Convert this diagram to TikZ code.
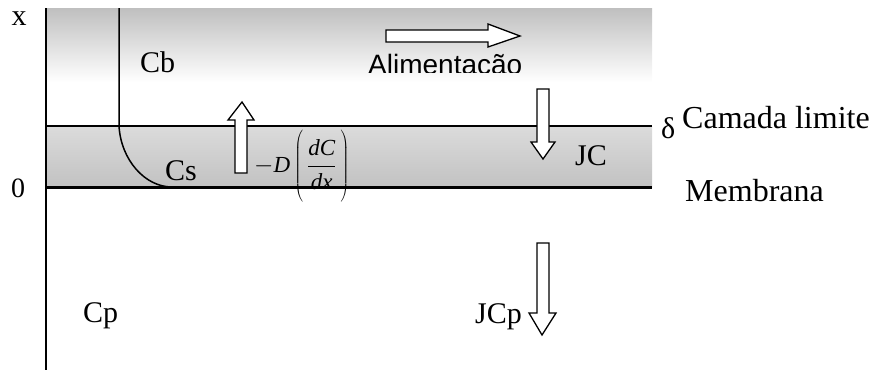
\documentclass[tikz,border=0pt]{standalone}
\usepackage{fontspec}
\setmainfont{Liberation Serif}
\newfontfamily\alimfont{Liberation Sans}
\usepackage{tikz}
\usetikzlibrary{positioning,calc}
\tikzset{
  lbl/.style={font=\fontsize{30}{36}\selectfont, inner sep=0pt, anchor=base west},
  big/.style={lbl, font=\fontsize{32}{38}\selectfont},
  flux/.style={draw, fill=white, line width=1.3pt, line join=miter},
  wall/.style={line width=2pt}
}
\begin{document}
\begin{tikzpicture}[x=1pt, y=-1pt]
\useasboundingbox (0,0) rectangle (874,370);
% bulk feed and boundary layer
\shade[top color=gray!50, bottom color=white] (46,8) rectangle (652,82);
\shade[top color=gray!28, bottom color=gray!48] (46,126) rectangle (652,187);
\draw[line width=1.5pt] (46,126) -- (652,126);
\draw[line width=3pt] (46,187) -- (652,187);
\draw[wall] (46,8) -- (46,370);
% concentration profile
\draw[line width=1.5pt] (119,8) -- (119,126) .. controls (121,160) and (145,187) .. (172,187);
% labels
\node[lbl, anchor=base] (ex) at (19,25) {x};
\node[lbl, anchor=base, font=\fontsize{28}{34}\selectfont] (zero) at (18,197) {0};
\node[lbl] (cb) at (140,72) {Cb};
\node[lbl] (cs) at (165,180) {Cs};
\node[lbl] (cp) at (83,322) {Cp};
\node[lbl] (jc) at (575,165) {JC};
\node[lbl] (jcp) at (475,323) {JCp};
\node[lbl] (delta) at (661,138) {δ};
\node[big] (camada) at (682,128) {Camada limite};
\node[big] (membrana) at (685,201) {Membrana};
\node[lbl, font=\fontsize{23}{28}\selectfont] (difus) at (254,172)
  {$\displaystyle -\textit{D}\left(\vrule height 30pt depth 30pt width 0pt\,\frac{\textit{dC}}{\textit{dx}}\,\right)$};
\begin{scope}
  \clip (360,40) rectangle (540,72);
  \node[lbl, font=\alimfont\fontsize{28}{34}\selectfont] (alim) at (368,74) {Alimentacão};
\end{scope}
% fluxes
\draw[flux] (386,30) -- (488,30) -- (488,24) -- (520,36) -- (488,47) -- (488,42) -- (386,42) -- cycle;
\draw[flux] (235,173) -- (235,120) -- (228,120) -- (242,102) -- (254,120) -- (247,120) -- (247,173) -- cycle;
\draw[flux] (537,89) -- (537,142) -- (531,142) -- (543,159) -- (555,142) -- (549,142) -- (549,89) -- cycle;
\draw[flux] (537,243) -- (537,313) -- (529,313) -- (542,335) -- (556,313) -- (549,313) -- (549,243) -- cycle;
\end{tikzpicture}
\end{document}
